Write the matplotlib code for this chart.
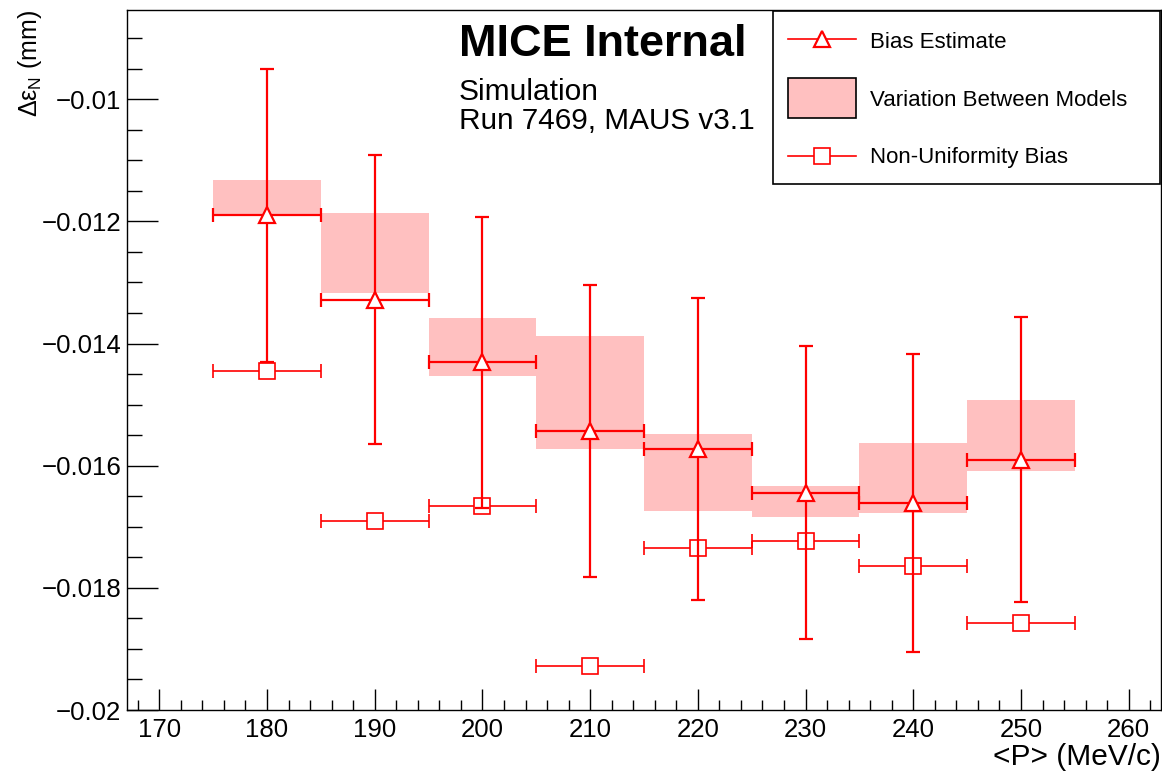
import numpy as np
import matplotlib
matplotlib.use("Agg")
import matplotlib.pyplot as plt
from matplotlib.lines import Line2D
from matplotlib.patches import Rectangle
from matplotlib.ticker import MultipleLocator

plt.rcParams['font.family'] = ['Liberation Sans', 'DejaVu Sans']
plt.rcParams['mathtext.fontset'] = 'custom'
plt.rcParams['mathtext.rm'] = 'Liberation Sans'
plt.rcParams['mathtext.it'] = 'Liberation Sans'

# momentum bins (MeV/c), half width of each bin
momentum = [180, 190, 200, 210, 220, 230, 240, 250]
bin_half = 5

# bias estimate (triangles) and its error
bias = [-0.01190, -0.01328, -0.01431, -0.01543, -0.01573, -0.01644, -0.01661, -0.01590]
bias_err = [0.00240, 0.00236, 0.00238, 0.00239, 0.00247, 0.00240, 0.00244, 0.00234]

# variation between models (band low / high)
model_hi = [-0.01132, -0.01186, -0.01358, -0.01388, -0.01548, -0.01633, -0.01563, -0.01492]
model_lo = [-0.01192, -0.01317, -0.01454, -0.01573, -0.01674, -0.01684, -0.01677, -0.01608]

# non-uniformity bias (squares)
nonuni = [-0.01445, -0.01690, -0.01666, -0.01928, -0.01734, -0.01723, -0.01764, -0.01857]

yticks = [-0.02, -0.018, -0.016, -0.014, -0.012, -0.01]
ytick_labels = ['\u22120.02', '\u22120.018', '\u22120.016', '\u22120.014', '\u22120.012', '\u22120.01']
xticks = [170, 180, 190, 200, 210, 220, 230, 240, 250, 260]
legend_labels = ['Bias Estimate', 'Variation Between Models', 'Non-Uniformity Bias']

red = '#ff0000'
pink = '#ffc0c0'

W, H = 1162, 774
AX_L, AX_R, AX_T, AX_B = 127, 1161, 10, 710

fig = plt.figure(figsize=(W / 100, H / 100), dpi=100)
ax = fig.add_axes([AX_L / W, (H - AX_B) / H, (AX_R - AX_L) / W, (AX_B - AX_T) / H])


def px(x, y):
    # pixel position in the picture -> axes fraction
    return (x - AX_L) / (AX_R - AX_L), (AX_B - y) / (AX_B - AX_T)


# model variation boxes
lo = np.array(model_lo)
hi = np.array(model_hi)
ax.bar(momentum, hi - lo, width=2 * bin_half, bottom=lo, color=pink, linewidth=0, zorder=1)

# non-uniformity bias
ax.errorbar(momentum, nonuni, xerr=bin_half, fmt='s', color=red, mfc='white', mec=red,
            ms=11, mew=1.2, elinewidth=1.2, capsize=5, capthick=1.2, zorder=2)

# bias estimate
ax.errorbar(momentum, bias, xerr=bin_half, yerr=bias_err, fmt='^', color=red, mfc='white',
            mec=red, ms=11.5, mew=1.6, elinewidth=1.6, capsize=5, capthick=1.6, zorder=3)

ax.set_xlim(167, 263)
ax.set_ylim(-0.02, -0.00854)

ax.set_xticks(xticks)
ax.set_xticklabels([str(v) for v in xticks])
ax.xaxis.set_minor_locator(MultipleLocator(2))
ax.set_yticks(yticks)
ax.set_yticklabels(ytick_labels)
ax.yaxis.set_minor_locator(MultipleLocator(0.0005))

ax.tick_params(which='both', direction='in', top=False, right=False, width=1.0, colors='black')
ax.tick_params(axis='y', which='major', length=22, pad=4, labelsize=18.6)
ax.tick_params(axis='y', which='minor', length=11)
ax.tick_params(axis='x', which='major', length=15, pad=6, labelsize=18.6)
ax.tick_params(axis='x', which='minor', length=7.5)
for sp in ax.spines.values():
    sp.set_linewidth(1.0)

ax.set_xlabel('<P> (MeV/c)', fontsize=21.5, loc='right')
ax.xaxis.set_label_coords(1.0, -0.047)
ax.set_ylabel(r'$\Delta\epsilon_{\mathrm{N}}$ (mm)', fontsize=18, loc='top')
ax.yaxis.set_label_coords(-0.080, 1.0)

x0, y0 = px(459, 56)
ax.text(x0, y0, 'MICE Internal', transform=ax.transAxes, fontsize=32.5,
        fontweight='bold', va='baseline', ha='left')
x0, y0 = px(459, 100.5)
ax.text(x0, y0, 'Simulation', transform=ax.transAxes, fontsize=21.5,
        va='baseline', ha='left')
x0, y0 = px(459, 129)
ax.text(x0, y0, 'Run 7469, MAUS v3.1', transform=ax.transAxes, fontsize=21.4,
        va='baseline', ha='left')

# legend box drawn by hand to follow the reference layout
lx0, ly0 = px(773, 184.3)
lx1, ly1 = px(1160, 10.7)
ax.add_patch(Rectangle((lx0, ly0), lx1 - lx0, ly1 - ly0, transform=ax.transAxes,
                       facecolor='white', edgecolor='black', linewidth=1.2, zorder=5,
                       clip_on=False))
hx0, _ = px(787.7, 0)
hx1, _ = px(855.7, 0)
hxm = 0.5 * (hx0 + hx1)
tx, _ = px(870, 0)
_, r1 = px(0, 39)
_, r3 = px(0, 155.7)
ax.add_line(Line2D([hx0, hx1], [r1, r1], transform=ax.transAxes, color=red, lw=1.2, zorder=6,
                   clip_on=False))
ax.add_line(Line2D([hxm], [r1], transform=ax.transAxes, color=red, marker='^', mfc='white',
                   mec=red, ms=11.5, mew=1.6, zorder=7, clip_on=False))
_, pb = px(0, 118.3)
_, pt = px(0, 77.7)
ax.add_patch(Rectangle((hx0, pb), hx1 - hx0, pt - pb, transform=ax.transAxes,
                       facecolor=pink, edgecolor='black', linewidth=1.2, zorder=6,
                       clip_on=False))
ax.add_line(Line2D([hx0, hx1], [r3, r3], transform=ax.transAxes, color=red, lw=1.2, zorder=6,
                   clip_on=False))
ax.add_line(Line2D([hxm], [r3], transform=ax.transAxes, color=red, marker='s', mfc='white',
                   mec=red, ms=11, mew=1.2, zorder=7, clip_on=False))
for label, base in zip(legend_labels, [48, 106, 162.7]):
    _, by = px(0, base)
    ax.text(tx, by, label, transform=ax.transAxes, fontsize=16, va='baseline', ha='left',
            zorder=7)

fig.savefig('out.png', dpi=100)
